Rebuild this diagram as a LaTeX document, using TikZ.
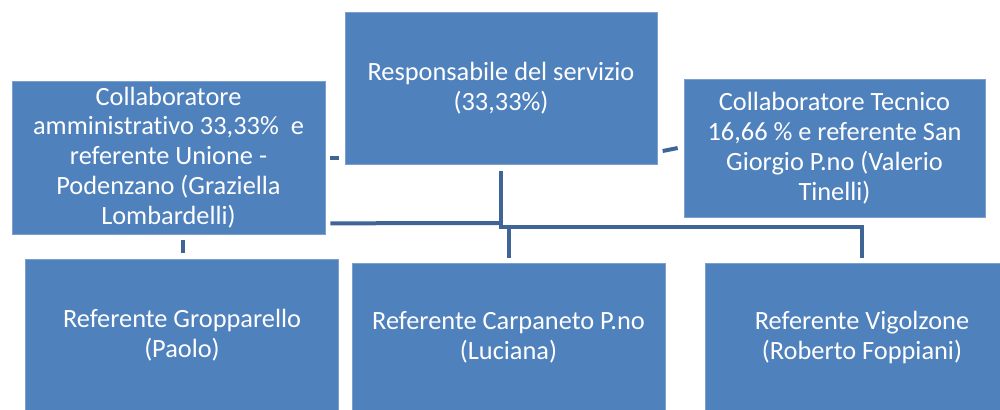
\documentclass[tikz,border=0pt]{standalone}
\usepackage{fontspec}
\setmainfont{Carlito}[Ligatures=NoCommon]
\definecolor{boxblue}{RGB}{79,129,189}
\definecolor{linkblue}{RGB}{63,101,150}
\begin{document}
\begin{tikzpicture}[x=0.02cm,y=-0.02cm,line join=miter]
  \tikzstyle{unit}=[rectangle,fill=boxblue,draw=boxblue!75!white,thin,text=white,align=center,font=\fontsize{15}{17}\selectfont,inner sep=0pt]
  \tikzstyle{link}=[draw=linkblue,line width=0.08cm]
  \useasboundingbox (0,0) rectangle (1000,409);
  \clip (0,0) rectangle (1000,409);
  \node[unit, minimum width=6.24cm, minimum height=3.04cm] (resp) at (501,88) {Responsabile del servizio\\(33,33\%)};
  \node[unit, minimum width=6.26cm, minimum height=3.06cm] (amm) at (168.5,157.5) {Collaboratore\\amministrativo 33,33\%~ e\\referente Unione -\\Podenzano (Graziella\\Lombardelli)};
  \node[unit, minimum width=6.02cm, minimum height=2.76cm] (tec) at (834.5,148) {Collaboratore Tecnico\\16,66 \% e referente San\\Giorgio P.no (Valerio\\Tinelli)};
  \node[unit, minimum width=6.27cm, minimum height=3.06cm] (grop) at (182,335.5) {Referente Gropparello\\(Paolo)};
  \node[unit, minimum width=6.26cm, minimum height=2.98cm] (carp) at (508.5,337.5) {Referente Carpaneto P.no\\(Luciana)};
  \node[unit, minimum width=6.28cm, minimum height=2.98cm] (vigo) at (862,337.5) {Referente Vigolzone\\(Roberto Foppiani)};
  \coordinate (bus) at (501,227);
  \draw[link] ([shift={(5,0)}]amm.east) -- ([shift={(14,0)}]amm.east);
  \draw[link] ([shift={(-21,3)}]tec.west) -- ([shift={(-6,0)}]tec.west);
  \draw[link] ([shift={(0,7)}]resp.south) -- (bus) -| ([shift={(0,-5)}]vigo.north);
  \draw[link] ([shift={(5,-11)}]amm.south east) -- ([shift={(0,-4)}]bus);
  \draw[link] (bus -| carp.north) -- ([shift={(0,-5)}]carp.north);
  \draw[link] ([shift={(1,-19)}]grop.north) -- ([shift={(1,-6)}]grop.north);
\end{tikzpicture}
\end{document}
